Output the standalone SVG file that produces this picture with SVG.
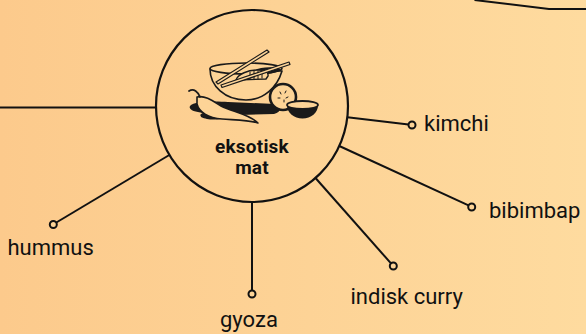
<svg xmlns="http://www.w3.org/2000/svg" width="586" height="334" viewBox="0 0 586 334">
  <defs>
    <linearGradient id="bg" x1="0" y1="0" x2="1" y2="0">
      <stop offset="0" stop-color="#fcca8c"/>
      <stop offset="1" stop-color="#fedb9f"/>
    </linearGradient>
  </defs>
  <style>
    .link { stroke: #111; stroke-width: 2; fill: none; }
    .dot { stroke: #111; stroke-width: 2; fill: #fdd497; }
    .label { font-family: Roboto, "Liberation Sans", sans-serif; font-size: 22px; fill: #111; }
    .title { font-family: Roboto, "Liberation Sans", sans-serif; font-size: 19px; font-weight: 700; fill: #111; text-anchor: middle; letter-spacing: 0.2px; }
    .ink { stroke: #1a1a1a; stroke-linejoin: round; stroke-linecap: round; }
    .light { fill: #fdd497; }
    .dark { fill: #1a1a1a; }
  </style>

  <rect width="586" height="334" fill="url(#bg)"/>

  <!-- connectors -->
  <g id="connectors">
    <path class="link" d="M0,107.5 H156"/>
    <path class="link" d="M474.5,0 L549,9 H586"/>
    <path class="link" d="M347.4,117.3 L408.5,124.6"/>
    <path class="link" d="M339.3,146 L468.5,205.4"/>
    <path class="link" d="M315.5,178 L391,263.4"/>
    <path class="link" d="M252,202 V290.5"/>
    <path class="link" d="M169.3,155 L56.3,222.5"/>
  </g>

  <!-- central topic -->
  <g id="center">
    <circle cx="252" cy="106" r="96" fill="none" stroke="#111" stroke-width="2.2"/>
    <g id="food-icon">
      <!-- shadow under the dishes -->
      <path class="dark" d="M190,106 C194,101 215,101 228,102 L275,104 C282,106 282,112 274,114 L240,115 C230,117 218,121 207,119 C199,118 199,114 203,113 C195,112 188,110 190,106 Z"/>
      <!-- chili pepper -->
      <path class="ink light" stroke-width="1.6" d="M197,97 C205,95 213,101 221,106 C233,112 249,114 258,123 C250,120 236,120 222,119 C208,118 199,112 197,104 Z"/>
      <path class="ink" fill="none" stroke-width="1.8" d="M189,91 C194,88 198,92 200,97"/>
      <!-- bowl -->
      <path class="ink light" stroke-width="1.6" d="M210,69 C210,86 225,100 246,100 C263,100 277,88 282,71 Z"/>
      <ellipse class="ink light" stroke-width="1.6" cx="246" cy="68.5" rx="36" ry="5.5"/>
      <path class="dark" d="M252,72 C258,67 272,66 281,69 C279,73 268,75 252,74 Z"/>
      <!-- tempura -->
      <path class="ink light" stroke-width="1.4" d="M236,80 C238,74 248,70 258,70 C264,70 269,72 268,76 L266,79 Z"/>
      <path class="ink" fill="none" stroke-width="1" d="M250,72 V79 M254,71 V79 M258,71 V79 M262,71 V78"/>
      <!-- chopsticks -->
      <path class="ink light" stroke-width="1.2" d="M216,82 L267,50 L269,52 L218,84 Z"/>
      <path class="ink light" stroke-width="1.2" d="M221,85 L289,62 L290,64.5 L222,87.5 Z"/>
      <!-- lime slice -->
      <circle class="ink light" stroke-width="2.6" cx="283" cy="97" r="13"/>
      <path class="ink" fill="none" stroke-width="1" d="M280,92 l1,2 M286,91 l-1,2 M278,98 l2,0 M288,97 l-2,1 M284,102 l0,-2"/>
      <!-- small bowl -->
      <path class="dark" d="M287,105 C287,113 294,118.5 302.5,118.5 C311,118.5 318,113 318,105 Z"/>
      <ellipse class="ink light" stroke-width="1.8" cx="302.5" cy="105" rx="15.5" ry="4"/>
    </g>
    <text class="title" x="252" y="153">eksotisk</text>
    <text class="title" x="252" y="174">mat</text>
  </g>

  <!-- leaves -->
  <g id="kimchi">
    <circle class="dot" cx="412" cy="125" r="3.5"/>
    <text class="label" x="424" y="131">kimchi</text>
  </g>
  <g id="bibimbap">
    <circle class="dot" cx="471.7" cy="207" r="3.5"/>
    <text class="label" x="489" y="218">bibimbap</text>
  </g>
  <g id="indisk-curry">
    <circle class="dot" cx="393.3" cy="266" r="3.5"/>
    <text class="label" x="350.5" y="304">indisk curry</text>
  </g>
  <g id="gyoza">
    <circle class="dot" cx="252" cy="294" r="3.5"/>
    <text class="label" x="220" y="327">gyoza</text>
  </g>
  <g id="hummus">
    <circle class="dot" cx="53.3" cy="224.5" r="3.5"/>
    <text class="label" x="7.5" y="255">hummus</text>
  </g>
</svg>
